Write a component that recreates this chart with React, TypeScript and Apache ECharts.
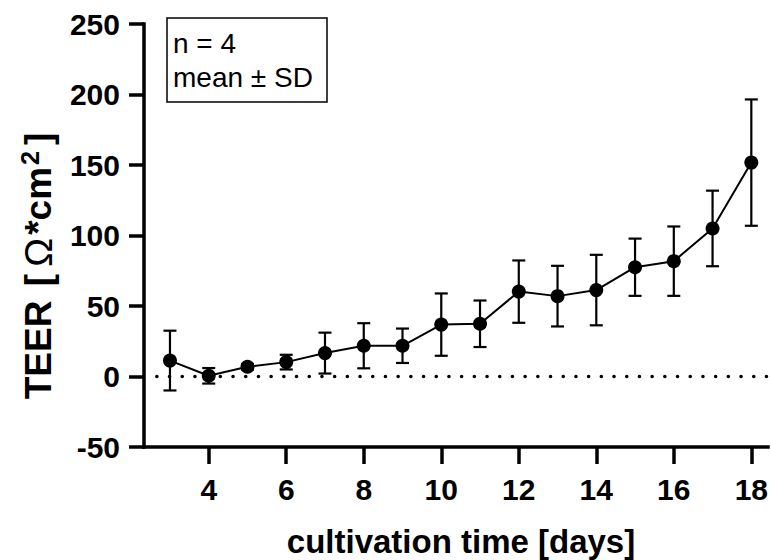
import React, { useEffect, useRef } from "react";
import * as echarts from "echarts";

const days = [3, 4, 5, 6, 7, 8, 9, 10, 11, 12, 13, 14, 15, 16, 17, 18];
const meanTEER = [11.3, 0.5, 6.9, 10.2, 16.6, 21.8, 21.8, 36.8, 37.4, 60.2, 57.0, 61.3, 77.5, 81.8, 105.0, 151.7];
const sdTEER = [21.2, 5.5, 2.0, 5.2, 14.5, 16.0, 12.2, 22.1, 16.5, 22.1, 21.5, 25.0, 20.3, 24.6, 26.8, 44.8];
const xTicks = [4, 6, 8, 10, 12, 14, 16, 18];
const legendLines = ["n = 4", "mean \u00B1 SD"];
const zeroLine = [[2.66, 0], [18.43, 0]];

const FONT = "'Liberation Sans', Arial, Helvetica, sans-serif";

export default function App() {
  const ref = useRef<HTMLDivElement>(null);
  useEffect(() => {
    if (!ref.current) return;
    const chart = echarts.init(ref.current, undefined, { renderer: "svg" });
    const errData = days.map((d, i) => [d, meanTEER[i] - sdTEER[i], meanTEER[i] + sdTEER[i]]);
    const lineData = days.map((d, i) => [d, meanTEER[i]]);
    chart.setOption({
      animation: false,
      backgroundColor: "#fff",
      grid: { left: 144, top: 24, width: 627, height: 423, containLabel: false },
      xAxis: {
        type: "value",
        min: 2.33,
        max: 18.43,
        splitLine: { show: false },
        axisLine: { show: true, onZero: false, lineStyle: { color: "#000", width: 3.5, cap: "square" } },
        axisTick: { show: true, customValues: xTicks, length: 17, lineStyle: { color: "#000", width: 3.5 } },
        axisLabel: {
          customValues: xTicks,
          margin: 27,
          color: "#000",
          fontSize: 30,
          fontWeight: "bold",
          fontFamily: FONT,
        },
      },
      yAxis: {
        type: "value",
        min: -50,
        max: 250,
        interval: 50,
        splitLine: { show: false },
        axisLine: { show: true, onZero: false, lineStyle: { color: "#000", width: 3.5, cap: "square" } },
        axisTick: { show: true, length: 15, lineStyle: { color: "#000", width: 3.5 } },
        axisLabel: {
          margin: 24,
          color: "#000",
          fontSize: 30,
          fontWeight: "bold",
          fontFamily: FONT,
        },
      },
      series: [
        {
          type: "line",
          data: zeroLine,
          symbol: "none",
          silent: true,
          z: 1,
          lineStyle: { color: "#000", width: 3.5, type: [0.1, 12.6], cap: "round" },
        },
        {
          type: "custom",
          data: errData,
          z: 2,
          renderItem: (params: any, api: any) => {
            const x = api.value(0);
            const lo = api.value(1);
            const hi = api.value(2);
            const pTop = api.coord([x, hi]);
            const pBot = api.coord([x, lo]);
            const hw = 6.5;
            const st = { stroke: "#000", lineWidth: 2.2 };
            return {
              type: "group",
              children: [
                { type: "line", shape: { x1: pTop[0], y1: pTop[1], x2: pBot[0], y2: pBot[1] }, style: st },
                { type: "line", shape: { x1: pTop[0] - hw, y1: pTop[1], x2: pTop[0] + hw, y2: pTop[1] }, style: st },
                { type: "line", shape: { x1: pBot[0] - hw, y1: pBot[1], x2: pBot[0] + hw, y2: pBot[1] }, style: st },
              ],
            };
          },
        },
        {
          type: "line",
          data: lineData,
          z: 3,
          symbol: "circle",
          symbolSize: 14,
          showAllSymbol: true,
          itemStyle: { color: "#000" },
          lineStyle: { color: "#000", width: 2 },
        },
      ],
      graphic: [
        {
          type: "rect",
          shape: { x: 167, y: 18, width: 160, height: 84 },
          style: { fill: "#fff", stroke: "#000", lineWidth: 1.5 },
          z: 10,
        },
        {
          type: "text",
          x: 173,
          y: 43,
          z: 11,
          style: { text: legendLines[0], fontSize: 28, fontFamily: FONT, fill: "#000", verticalAlign: "middle" },
        },
        {
          type: "text",
          x: 173,
          y: 77,
          z: 11,
          style: { text: legendLines[1], fontSize: 28, fontFamily: FONT, fill: "#000", verticalAlign: "middle" },
        },
        {
          type: "text",
          x: 38,
          y: 264,
          rotation: Math.PI / 2,
          z: 11,
          style: {
            text: "{b|TEER }{k|[}{o|\u03A9}{b|*cm}{s|2}{k|]}",
            align: "center",
            verticalAlign: "middle",
            fill: "#000",
            rich: {
              b: { fontSize: 37, fontWeight: "bold", fontFamily: FONT, fill: "#000", color: "#000" },
              k: { fontSize: 37, fontWeight: "bold", fontFamily: FONT, fill: "#000", color: "#000", padding: [0, 4, 0, 4] },
              o: { fontSize: 39, fontWeight: "normal", fontFamily: FONT, fill: "#000", color: "#000", padding: [0, 3, 0, 3] },
              s: { fontSize: 25, fontWeight: "bold", fontFamily: FONT, fill: "#000", color: "#000", padding: [0, 2, 16, 2] },
            },
          },
        },
        {
          type: "text",
          x: 461,
          y: 541,
          z: 11,
          style: {
            text: "cultivation time [days]",
            align: "center",
            verticalAlign: "middle",
            fontSize: 33,
            fontWeight: "bold",
            fontFamily: FONT,
            fill: "#000",
          },
        },
      ],
    });
    return () => chart.dispose();
  }, []);
  return (
    <div
      ref={ref}
      style={{ position: "fixed", left: 0, top: 0, width: 771, height: 560, background: "#fff" }}
    />
  );
}
